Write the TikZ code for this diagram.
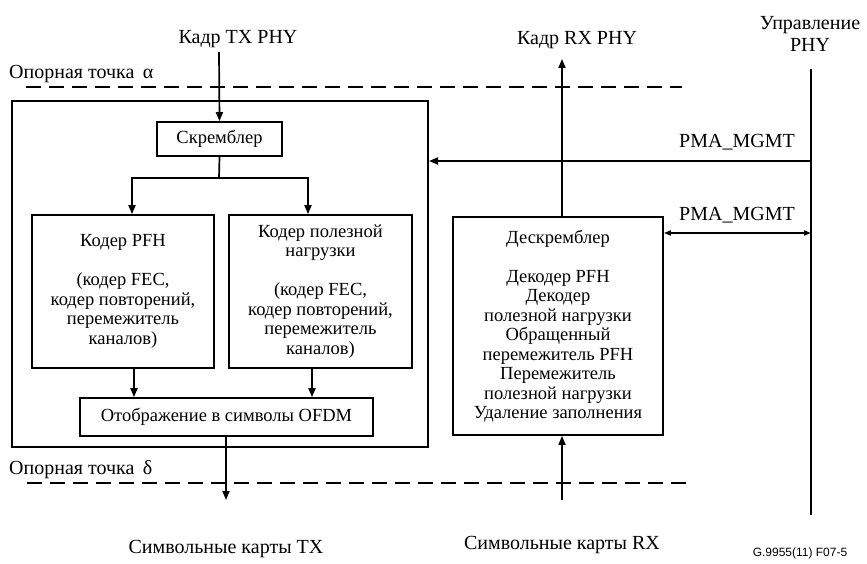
\documentclass[tikz,border=0pt]{standalone}
\usepackage{fontspec}
\setmainfont{Liberation Serif}
\newfontfamily\figsans{Liberation Sans}
\usetikzlibrary{arrows.meta,calc}
\newcommand\boxfont{\fontsize{18.5}{19.5}\selectfont}
\newcommand\lblfont{\fontsize{20}{22}\selectfont}
\begin{document}
\begin{tikzpicture}[x=1pt,y=-1pt,
  blk/.style={draw, line width=1.7pt, inner sep=0pt, align=center, font=\boxfont},
  lbl/.style={inner sep=0pt, align=center, font=\lblfont},
  conn/.style={line width=1.7pt},
  arr/.style={conn, -{Triangle[length=9pt,width=7pt]}},
  arrboth/.style={conn, {Triangle[length=7pt,width=5pt]}-{Triangle[length=7pt,width=5pt]}},
  refline/.style={line width=2pt, dash pattern=on 15pt off 8pt},
  bus/.style={line width=2pt}]
\useasboundingbox (0,0) rectangle (867,564);

% transmitter enclosure
\node[draw, line width=2pt, minimum width=416, minimum height=346, inner sep=0pt] (tx) at (220,274) {};

% transmitter blocks
\node[blk, minimum width=125, minimum height=34] (scr) at (219.5,139) {Скремблер};
\node[blk, minimum width=182, minimum height=153] (pfh) at (123,291.5)
  {Кодер PFH\\[19.5pt](кодер FEC,\\кодер повторений,\\перемежитель\\каналов)};
\node[blk, minimum width=183, minimum height=153] (pay) at (320.5,291.5)
  {Кодер полезной\\нагрузки\\[19.5pt](кодер FEC,\\кодер повторений,\\перемежитель\\каналов)};
\node[blk, minimum width=293, minimum height=38] (ofdm) at (226.5,417) {Отображение в символы OFDM};

% receiver block
\node[blk, minimum width=210, minimum height=218] (desc) at (558,326)
  {Дескремблер\\[19.5pt]Декодер PFH\\Декодер\\полезной нагрузки\\Обращенный\\перемежитель PFH\\Перемежитель\\полезной нагрузки\\Удаление заполнения};

% outside labels
\node[lbl] (txin) at (238,39) {Кадр TX PHY};
\node[lbl] (rxout) at (577,40) {Кадр RX PHY};
\node[lbl] (mgmt) at (810,34) {Управление\\PHY};
\node[lbl, anchor=west] (alpha) at (9,74) {Опорная точка \,α};
\node[lbl, anchor=west] (delta) at (9,470) {Опорная точка \,δ};
\node[lbl] (txmap) at (226,549) {Символьные карты TX};
\node[lbl] (rxmap) at (562,545) {Символьные карты RX};
\node[lbl] (pma1) at (737,142) {PMA\_MGMT};
\node[lbl] (pma2) at (737,215) {PMA\_MGMT};
\node[inner sep=0pt, font=\figsans\fontsize{12}{12}\selectfont] (fig) at (800,553) {G.9955(11) F07-5};

% reference points
\draw[refline] (26,87) -- (682,87);
\draw[refline] (27,483) -- (690,483);

% connection points
\coordinate (txtop) at (219,52);
\coordinate (split) at (219,178);
\coordinate (txbot) at (226,500);
\coordinate (rxtop) at (562,59);
\coordinate (rxbot) at (562,500);
\coordinate (mtop) at (811,69);
\coordinate (mbot) at (811,515);
\coordinate (m1) at (811,161);
\coordinate (m2) at (811,233);
\coordinate (pl) at ($(pfh.south)+(11,0)$);
\coordinate (pr) at ($(pay.south)+(-8.5,0)$);

% transmit path
\draw[arr] (txtop) -- (scr.north);
\draw[conn] (scr.south) -- (split);
\draw[arr] (split) -| ($(pfh.north)+(9,0)$);
\draw[arr] (split) -| ($(pay.north)+(-12.5,0)$);
\draw[arr] (pl) -- (pl |- ofdm.north);
\draw[arr] (pr) -- (pr |- ofdm.north);
\draw[arr] (ofdm.south -| txbot) -- (txbot);

% receive path
\draw[arr] (rxbot) -- (rxbot |- desc.south);
\draw[arr] (desc.north -| rxtop) -- (rxtop);

% management
\draw[bus] (mtop) -- (mbot);
\draw[arr] (m1) -- (m1 -| tx.east);
\draw[arrboth] (desc.east |- m2) -- (m2);
\end{tikzpicture}
\end{document}
